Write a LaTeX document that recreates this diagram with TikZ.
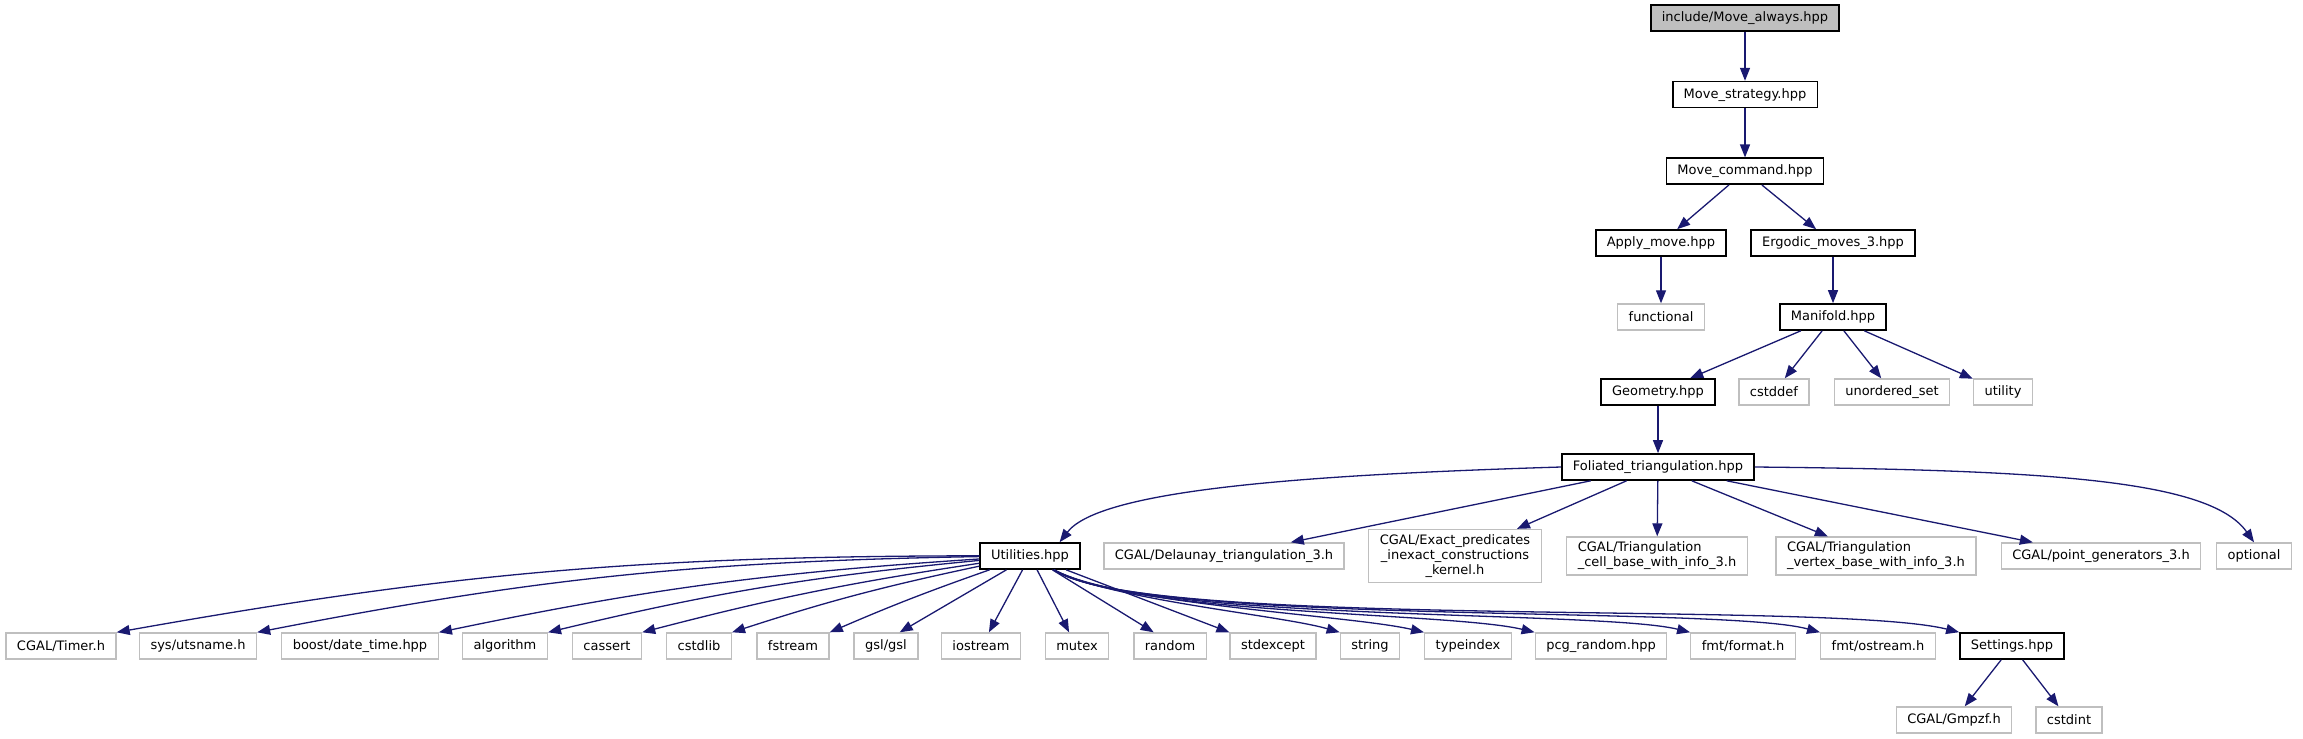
\documentclass[tikz,border=0pt]{standalone}
\usepackage{fontspec}
\setmainfont{DejaVu Sans}
\usetikzlibrary{arrows.meta,positioning}
\definecolor{edgeblue}{HTML}{191970}
\definecolor{grey75}{HTML}{BFBFBF}

\begin{document}
\begin{tikzpicture}[x=0.5pt, y=-0.5pt, >={Triangle[length=6.5pt,width=5pt]}]
    \tikzset{
        filebox/.style={draw, rectangle, minimum height=13pt, inner xsep=5.5pt, inner ysep=2.5pt, font=\fontsize{6.5pt}{7.5pt}\selectfont, text=black},
        projfile/.style={filebox, draw=black, fill=white, line width=0.8pt},
        sysfile/.style={filebox, draw=grey75, fill=white, line width=0.7pt},
        mainfile/.style={filebox, draw=black, fill=grey75, line width=0.8pt},
        line/.style={draw=edgeblue, ->, line width=0.65pt}
    }
    \useasboundingbox (0,0) rectangle (2303,739);

    \node [mainfile] (always) at (1745,18) {include/Move\_always.hpp};
    \node [projfile, below=24.5pt of always] (strategy) {Move\_strategy.hpp};
    \node [projfile, below=24.5pt of strategy] (command) {Move\_command.hpp};
    \node [projfile] (apply) at (1661,243) {Apply\_move.hpp};
    \node [projfile] (ergodic) at (1833,243) {Ergodic\_moves\_3.hpp};
    \node [sysfile] (functional) at (1661,317) {functional};
    \node [projfile] (manifold) at (1833,317) {Manifold.hpp};
    \node [projfile] (geometry) at (1658,392) {Geometry.hpp};
    \node [sysfile] (cstddef) at (1774,392) {cstddef};
    \node [sysfile] (unordered) at (1892,392) {unordered\_set};
    \node [sysfile] (utility) at (2003,392) {utility};
    \node [projfile] (foliated) at (1658,467) {Foliated\_triangulation.hpp};

    \node [projfile] (utilities) at (1030,556) {Utilities.hpp};
    \node [sysfile] (delaunay) at (1224,556) {CGAL/Delaunay\_triangulation\_3.h};
    \node [sysfile, align=center] (exact) at (1455,556) {CGAL/Exact\_predicates\\\_inexact\_constructions\\\_kernel.h};
    \node [sysfile, align=left] (tcell) at (1657,556) {CGAL/Triangulation\\\_cell\_base\_with\_info\_3.h};
    \node [sysfile, align=left] (tvertex) at (1876,556) {CGAL/Triangulation\\\_vertex\_base\_with\_info\_3.h};
    \node [sysfile] (pointgen) at (2101,556) {CGAL/point\_generators\_3.h};
    \node [sysfile] (optional) at (2254,556) {optional};

    \node [sysfile] (timer) at (61,646) {CGAL/Timer.h};
    \node [sysfile] (utsname) at (198,646) {sys/utsname.h};
    \node [sysfile] (datetime) at (360,646) {boost/date\_time.hpp};
    \node [sysfile] (algorithm) at (505,646) {algorithm};
    \node [sysfile] (cassert) at (607,646) {cassert};
    \node [sysfile] (cstdlib) at (699,646) {cstdlib};
    \node [sysfile] (fstream) at (793,646) {fstream};
    \node [sysfile] (gsl) at (886,646) {gsl/gsl};
    \node [sysfile] (iostream) at (981,646) {iostream};
    \node [sysfile] (mutex) at (1077,646) {mutex};
    \node [sysfile] (random) at (1170,646) {random};
    \node [sysfile] (stdexcept) at (1273,646) {stdexcept};
    \node [sysfile] (string) at (1370,646) {string};
    \node [sysfile] (typeindex) at (1468,646) {typeindex};
    \node [sysfile] (pcg) at (1601,646) {pcg\_random.hpp};
    \node [sysfile] (format) at (1743,646) {fmt/format.h};
    \node [sysfile] (ostream) at (1878,646) {fmt/ostream.h};
    \node [projfile] (settings) at (2012,646) {Settings.hpp};
    \node [sysfile] (gmpzf) at (1954,720) {CGAL/Gmpzf.h};
    \node [sysfile] (cstdint) at (2069,720) {cstdint};

    \path [line] (always) -- (strategy);
    \path [line] (strategy) -- (command);
    \path [line] (command) -- (apply);
    \path [line] (command) -- (ergodic);
    \path [line] (apply) -- (functional);
    \path [line] (ergodic) -- (manifold);
    \path [line] (manifold) -- (geometry);
    \path [line] (manifold) -- (cstddef);
    \path [line] (manifold) -- (unordered);
    \path [line] (manifold) -- (utility);
    \path [line] (geometry) -- (foliated);

    \path [line] (foliated.west) .. controls (1300,475) and (1100,490) .. (utilities.25);
    \path [line] (foliated) -- (delaunay);
    \path [line] (foliated) -- (exact);
    \path [line] (foliated) -- (tcell);
    \path [line] (foliated) -- (tvertex);
    \path [line] (foliated) -- (pointgen);
    \path [line] (foliated.east) .. controls (2050,470) and (2210,480) .. (optional.north);

    \path [line] (utilities) to[bend right=5] (timer.north east);
    \path [line] (utilities) to[bend right=5] (utsname.north east);
    \path [line] (utilities) to[bend right=4] (datetime.north east);
    \path [line] (utilities) to[bend right=4] (algorithm.north east);
    \path [line] (utilities) to[bend right=3] (cassert.north east);
    \path [line] (utilities) to[bend right=3] (cstdlib.north east);
    \path [line] (utilities) to[bend right=2] (fstream.north east);
    \path [line] (utilities) -- (gsl.45);
    \path [line] (utilities) -- (iostream.60);
    \path [line] (utilities) -- (mutex.120);
    \path [line] (utilities) -- (random.140);
    \path [line] (utilities) -- (stdexcept.north west);
    \path [line] (utilities.-30) .. controls (1110,600) and (1280,615) .. (string.north west);
    \path [line] (utilities.-30) .. controls (1120,605) and (1350,615) .. (typeindex.north west);
    \path [line] (utilities.-30) .. controls (1130,615) and (1450,612) .. (pcg.north west);
    \path [line] (utilities.-30) .. controls (1140,622) and (1600,610) .. (format.north west);
    \path [line] (utilities.-30) .. controls (1140,626) and (1720,605) .. (ostream.north west);
    \path [line] (utilities.-30) .. controls (1140,630) and (1830,600) .. (settings.north west);

    \path [line] (settings) -- (gmpzf);
    \path [line] (settings) -- (cstdint);
\end{tikzpicture}
\end{document}
